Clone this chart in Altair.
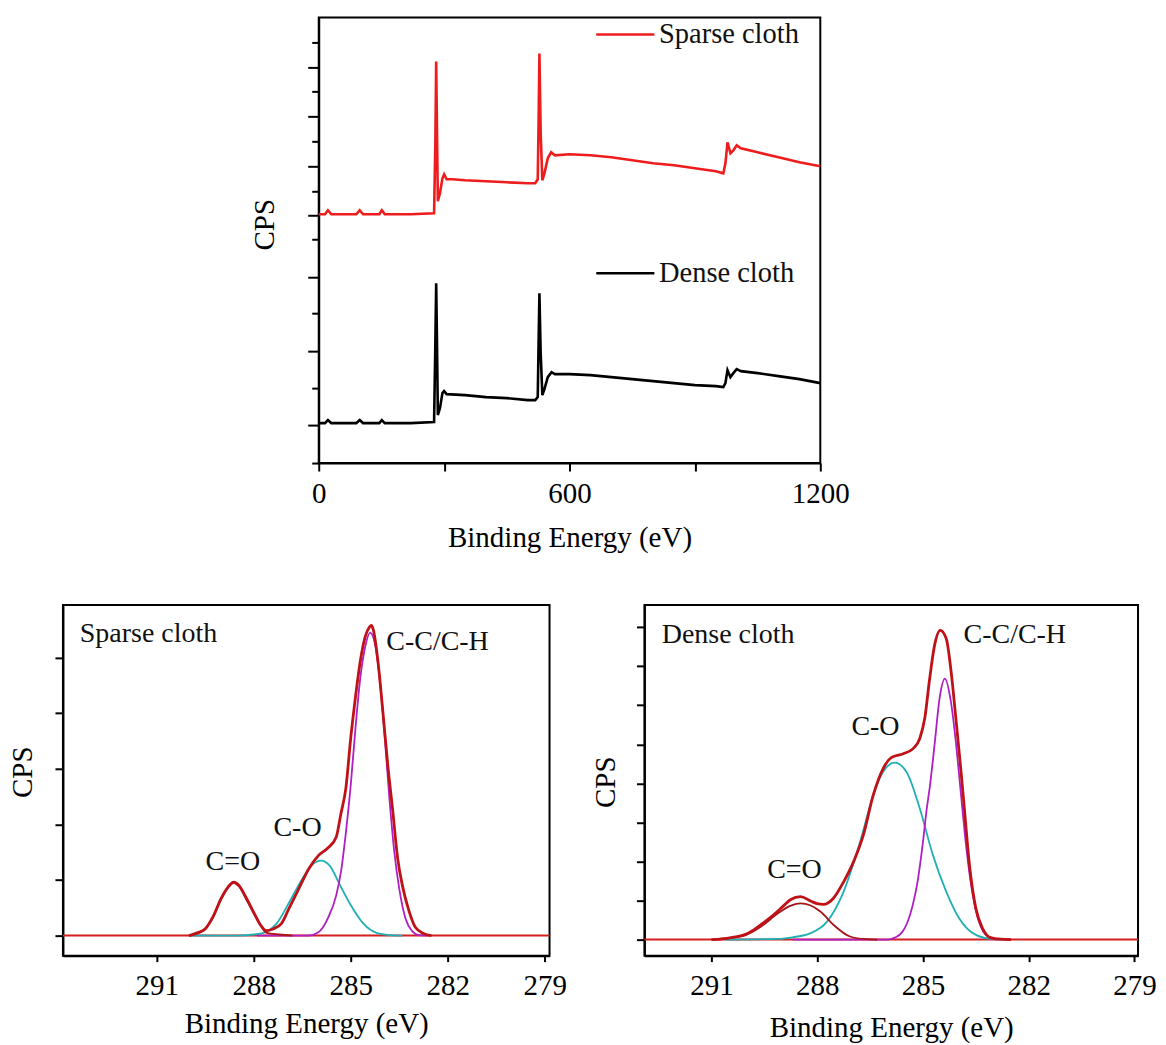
import altair as alt
import pandas as pd

FONT = "Liberation Serif"
RED = "#ee1c1c"
ENV = "#be1218"
BASE = "#d41f1f"
MAG = "#b01fc4"
CYAN = "#1fb0b6"

# ---------------- top panel: survey spectra ----------------
sparse_E = [0, 15, 22, 30, 90, 98, 106, 145, 151, 158, 220, 276, 279, 281, 283, 285,
            290, 296, 300, 306, 320, 350, 400, 450, 500, 518, 524, 526, 528, 531, 535,
            540, 548, 556, 565, 600, 650, 700, 750, 800, 850, 900, 950,
            968, 973, 978, 985, 992, 1000, 1010, 1050, 1100, 1150, 1200]
sparse_cps = [249, 249, 253, 249, 249, 253, 249, 249, 253, 249, 249, 250, 320, 402, 330, 262,
              270, 285, 289, 284, 284, 283, 282, 281, 280, 280, 284, 340, 410, 330, 283,
              290, 305, 311, 308, 309, 308, 306, 303, 300, 298, 295, 292,
              290, 300, 321, 310, 313, 318, 315, 311, 306, 301, 297]
dense_E = [0, 15, 22, 30, 90, 98, 106, 145, 151, 158, 220, 276, 279, 281, 283, 285,
           290, 296, 300, 306, 350, 400, 450, 500, 518, 524, 526, 528, 531, 535,
           540, 548, 557, 565, 600, 650, 700, 750, 800, 850, 900, 950,
           968, 973, 978, 985, 992, 1000, 1010, 1050, 1100, 1150, 1200]
dense_cps = [40, 40, 43, 40, 40, 43, 40, 40, 43, 40, 40, 41, 120, 180, 120, 48,
             55, 70, 72, 69, 68, 66, 65, 63, 63, 66, 120, 170, 110, 68,
             74, 86, 91, 89, 89, 88, 86, 84, 82, 80, 78, 77,
             76, 80, 93, 86, 90, 94, 92, 90, 87, 84, 80]
top_ticks_major = [396, 347, 297, 248, 186, 112, 38]
top_ticks_minor = [421, 372, 322, 272, 224, 150, 75, 0]
top_xticks = [0, 300, 600, 900, 1200]

legend_names = ["Sparse cloth", "Dense cloth"]
legend_E1 = [664, 664]
legend_E2 = [803, 803]
legend_text_E = [814, 814]
legend_cps = [429, 190]

# ---------------- bottom panels: C1s high resolution ----------------
xps_ticks = [291, 288, 285, 282, 279]

# Sparse cloth (left)
sp_env_E = [290.0, 289.75, 289.5, 289.25, 289.0, 288.8, 288.62, 288.45, 288.25, 288.0,
            287.8, 287.6, 287.4, 287.15, 286.9, 286.6, 286.3, 286.0, 285.7, 285.45,
            285.3, 285.15, 285.0, 284.85, 284.7, 284.55, 284.42, 284.36, 284.3, 284.15,
            284.0, 283.85, 283.7, 283.55, 283.4, 283.2, 283.0, 282.75, 282.5]
sp_env = [0.0, 0.05, 0.12, 0.35, 0.68, 0.87, 0.96, 0.90, 0.70, 0.42,
          0.20, 0.09, 0.12, 0.21, 0.50, 0.85, 1.20, 1.44, 1.58, 1.77,
          2.20, 2.65, 3.55, 4.30, 4.95, 5.38, 5.55, 5.58, 5.50, 4.90,
          4.00, 3.05, 2.25, 1.40, 0.90, 0.45, 0.15, 0.04, 0.0]
sp_cc_E = [287.9, 286.3, 286.0, 285.7, 285.45, 285.3, 285.15, 285.0, 284.85, 284.7,
           284.55, 284.4, 284.25, 284.1, 283.95, 283.8, 283.65, 283.5, 283.3, 283.1,
           282.9, 282.6]
sp_cc = [0.0, 0.0, 0.06, 0.32, 0.72, 1.15, 1.85, 2.70, 3.75, 4.65,
         5.20, 5.45, 5.25, 4.60, 3.60, 2.45, 1.50, 0.85, 0.30, 0.08,
         0.01, 0.0]
sp_co_E = [290.0, 288.5, 288.0, 287.7, 287.3, 286.9, 286.5, 286.2, 285.92, 285.65,
           285.35, 285.0, 284.6, 284.2, 283.8, 283.4]
sp_co = [0.0, 0.0, 0.02, 0.05, 0.21, 0.60, 1.02, 1.27, 1.35, 1.26,
         0.93, 0.55, 0.21, 0.05, 0.01, 0.0]
sp_cdo_E = [290.0, 289.6, 289.3, 289.0, 288.8, 288.62, 288.45, 288.2, 287.9, 287.6,
            287.2, 286.8]
sp_cdo = [0.0, 0.08, 0.28, 0.66, 0.86, 0.95, 0.88, 0.62, 0.30, 0.05,
          0.02, 0.0]
sp_lab_text = ["Sparse cloth", "C-C/C-H", "C-O", "C=O"]
sp_lab_E = [293.38, 283.90, 287.39, 289.49]
sp_lab_v = [5.43, 5.29, 1.94, 1.33]

# Dense cloth (right)
de_env_E = [291.0, 290.7, 290.4, 290.07, 289.8, 289.6, 289.35, 289.13, 288.95, 288.76,
            288.47, 288.19, 288.0, 287.82, 287.54, 287.25, 286.97, 286.69, 286.41, 286.13,
            285.9, 285.56, 285.28, 285.09, 284.95, 284.81, 284.67, 284.51, 284.34, 284.2,
            284.06, 283.92, 283.83, 283.68, 283.5, 283.31, 283.08, 282.8, 282.5]
de_env = [0.0, 0.02, 0.06, 0.12, 0.25, 0.38, 0.55, 0.72, 0.87, 1.02,
          1.10, 0.99, 0.92, 0.90, 1.06, 1.48, 1.99, 2.68, 3.70, 4.38,
          4.66, 4.76, 4.89, 5.15, 5.66, 6.68, 7.54, 7.92, 7.71, 6.85,
          5.60, 4.30, 3.40, 1.90, 0.80, 0.29, 0.05, 0.01, 0.0]
de_cc_E = [288.7, 286.0, 285.8, 285.6, 285.45, 285.3, 285.15, 285.0, 284.9, 284.8,
           284.67, 284.53, 284.38, 284.2, 284.06, 283.92, 283.8, 283.65, 283.5, 283.3,
           283.1, 282.9]
de_cc = [0.0, 0.0, 0.05, 0.18, 0.42, 0.85, 1.50, 2.50, 3.30, 3.95,
         5.00, 6.17, 6.68, 6.05, 5.00, 3.70, 2.60, 1.50, 0.75, 0.22,
         0.05, 0.0]
de_co_E = [290.6, 289.1, 288.7, 288.2, 287.72, 287.25, 286.78, 286.41, 286.13, 285.8,
           285.47, 285.09, 284.72, 284.34, 283.97, 283.5, 283.0, 282.7]
de_co = [0.0, 0.02, 0.06, 0.16, 0.46, 1.23, 2.51, 3.70, 4.30, 4.53,
         4.30, 3.36, 2.17, 1.23, 0.54, 0.12, 0.01, 0.0]
de_cdo_E = [290.9, 290.5, 290.07, 289.6, 289.13, 288.8, 288.47, 288.2, 287.91, 287.54,
            287.07, 286.6, 286.3]
de_cdo = [0.01, 0.04, 0.10, 0.33, 0.66, 0.85, 0.93, 0.88, 0.72, 0.38,
          0.08, 0.01, 0.0]
de_lab_text = ["Dense cloth", "C-C/C-H", "C-O", "C=O"]
de_lab_E = [292.41, 283.85, 287.03, 289.42]
de_lab_v = [7.80, 7.80, 5.45, 1.79]


def df(xs, ys):
    return pd.DataFrame({"E": xs, "v": ys})


# ---------------- top chart ----------------
TOP_W, TOP_H = 502, 446
tx = alt.X("E:Q", scale=alt.Scale(domain=[0, 1200], nice=False, zero=False),
           axis=alt.Axis(values=top_xticks, labelExpr="datum.value % 600 == 0 ? datum.value : ''",
                         tickSize=8, labelPadding=22, labelBaseline="middle",
                         labelFlush=False, labelOverlap=False, grid=False,
                         title="Binding Energy (eV)", titleX=TOP_W / 2, titleY=75,
                         titleBaseline="middle", titleAlign="center"))
ty = alt.Y("v:Q", scale=alt.Scale(domain=[0, TOP_H], nice=False, zero=False),
           axis=alt.Axis(values=top_ticks_major + top_ticks_minor, labels=False, grid=False,
                         tickSize={"condition": {"test": "indexof(%s, datum.value) >= 0" % str(top_ticks_major),
                                                 "value": 11}, "value": 7},
                         title="CPS", titleX=-54, titleY=207, titleAngle=-90,
                         titleBaseline="middle", titleAlign="center"))

top_layers = [
    alt.Chart(df(sparse_E, sparse_cps)).mark_line(color=RED, strokeWidth=2.6).encode(x=tx, y=ty),
    alt.Chart(df(dense_E, dense_cps)).mark_line(color="black", strokeWidth=2.6).encode(x=tx, y=ty),
]
leg = pd.DataFrame({"E": legend_E1, "E2": legend_E2, "Et": legend_text_E, "v": legend_cps,
                    "t": legend_names, "c": [RED, "#000000"]})
top_layers.append(alt.Chart(leg).mark_rule(strokeWidth=2.5).encode(
    x=tx, x2="E2:Q", y=ty, color=alt.Color("c:N", scale=None)))
top_layers.append(alt.Chart(leg).mark_text(align="left", baseline="middle", font=FONT,
                                           fontSize=28.5, color="#111").encode(
    x=alt.X("Et:Q", scale=alt.Scale(domain=[0, 1200], nice=False, zero=False)), y=ty, text="t:N"))
top = alt.layer(*top_layers).properties(width=TOP_W, height=TOP_H)

spacer = alt.Chart(pd.DataFrame({"a": [0], "b": [0]})).mark_point(opacity=0).encode(
    x=alt.X("a:Q", axis=None), y=alt.Y("b:Q", axis=None)
).properties(width=256, height=TOP_H, view=alt.ViewBackground(stroke="transparent"))


# ---------------- bottom charts ----------------
def xps_panel(width, height, xdom, ydom, yticks, ytitle_x, ytitle_y, xtitle_y,
              env, cc, co, cdo, lab_text, lab_E, lab_v):
    bx = alt.X("E:Q", scale=alt.Scale(domain=xdom, reverse=True, nice=False, zero=False),
               axis=alt.Axis(values=xps_ticks, tickSize=6, labelPadding=24, labelBaseline="middle",
                             labelFlush=False, labelOverlap=False, grid=False,
                             title="Binding Energy (eV)", titleX=width / 2, titleY=xtitle_y,
                             titleBaseline="middle", titleAlign="center"))
    by = alt.Y("v:Q", scale=alt.Scale(domain=ydom, nice=False, zero=False),
               axis=alt.Axis(values=yticks, labels=False, tickSize=8, grid=False,
                             title="CPS", titleX=ytitle_x, titleY=ytitle_y, titleAngle=-90,
                             titleBaseline="middle", titleAlign="center"))
    layers = [
        alt.Chart(df([xdom[1], xdom[0]], [0, 0])).mark_line(color=BASE, strokeWidth=2).encode(x=bx, y=by),
        alt.Chart(df(*co)).mark_line(color=CYAN, strokeWidth=1.8, interpolate="monotone").encode(x=bx, y=by),
        alt.Chart(df(*cc)).mark_line(color=MAG, strokeWidth=1.8, interpolate="monotone").encode(x=bx, y=by),
        alt.Chart(df(*cdo)).mark_line(color="#a8141a", strokeWidth=1.8, interpolate="monotone").encode(x=bx, y=by),
        alt.Chart(df(*env)).mark_line(color=ENV, strokeWidth=2.8, interpolate="monotone").encode(x=bx, y=by),
        alt.Chart(pd.DataFrame({"E": lab_E, "v": lab_v, "t": lab_text})).mark_text(
            align="left", baseline="middle", font=FONT, fontSize=28, color="#111").encode(
            x=bx, y=by, text="t:N"),
    ]
    return alt.layer(*layers).properties(width=width, height=height)


left = xps_panel(487, 351, [278.85, 293.9], [-0.36, 5.95], [0, 1, 2, 3, 4, 5], -40, 167, 68,
                 (sp_env_E, sp_env), (sp_cc_E, sp_cc), (sp_co_E, sp_co), (sp_cdo_E, sp_cdo),
                 sp_lab_text, sp_lab_E, sp_lab_v)
right = xps_panel(494, 351, [278.9, 292.9], [-0.41, 8.57], [0, 1, 2, 3, 4, 5, 6, 7, 8], -39, 177, 72,
                  (de_env_E, de_env), (de_cc_E, de_cc), (de_co_E, de_co), (de_cdo_E, de_cdo),
                  de_lab_text, de_lab_E, de_lab_v)

top_row = alt.hconcat(spacer, top, spacing=0, bounds="flush")
bottom_row = alt.hconcat(left, right, spacing=95, bounds="flush")

chart = alt.vconcat(top_row, bottom_row, spacing=50).properties(
    padding={"left": 0, "top": 8, "right": 0, "bottom": 0},
    background="white",
).configure_view(
    stroke="black", strokeWidth=2
).configure_axis(
    domainColor="black", domainWidth=2, tickColor="black", tickWidth=2,
    labelFont=FONT, labelFontSize=29, labelColor="black",
    titleFont=FONT, titleFontSize=29, titleFontWeight="normal", titleColor="black",
)

chart.save("out.html", embed_options={"renderer": "svg", "actions": False})
